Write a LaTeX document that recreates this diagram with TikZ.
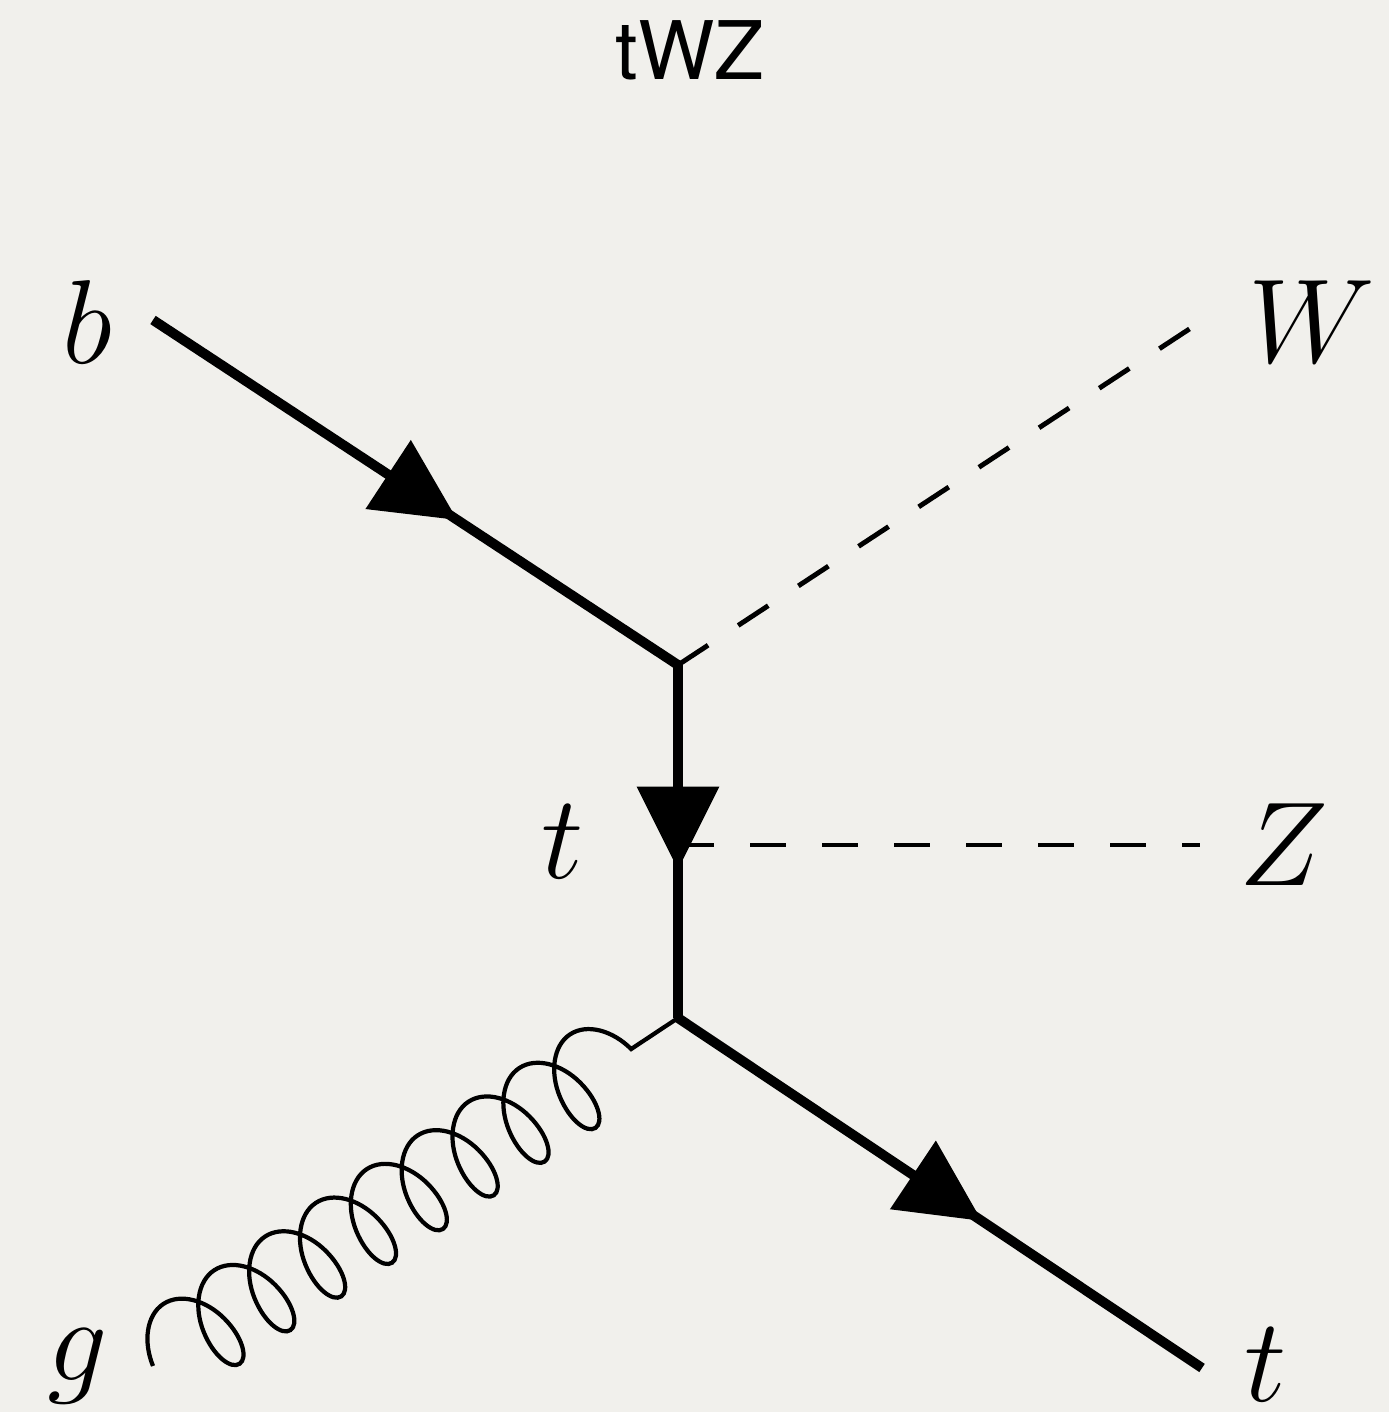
\RequirePackage{fix-cm}
\documentclass[tikz,border=0pt]{standalone}
\usepackage{fontspec}
\newfontfamily\titlefont{TeX Gyre Heros}
\usetikzlibrary{arrows.meta,decorations.markings,decorations.pathmorphing}

\begin{document}
\begin{tikzpicture}[
  fermion/.style={line width=2.8pt, postaction={decorate},
    decoration={markings, mark=at position 0.58 with {\arrow{Triangle[length=8.3mm,width=8mm]}}}},
  scalar/.style={line width=1.4pt, dash pattern=on 3.6mm off 3.6mm},
  gluon/.style={line width=1.2pt, decorate,
    decoration={coil, amplitude=4.6mm, segment length=6.1mm, aspect=0.6}},
  lbl/.style={font=\fontsize{34}{40}\selectfont, inner sep=0pt}
]

% Colori
\definecolor{bgGray}{HTML}{F1F0EC}

% Sfondo
\fill[bgGray] (0,0) rectangle (13.89,14.12);
\useasboundingbox (0,0) rectangle (13.89,14.12);

% Titolo
\node[font=\titlefont\fontsize{23}{28}\selectfont, anchor=base] (title) at (6.90,13.32) {tWZ};

% Vertici ed estremi
\coordinate (b) at (1.53,10.92);
\coordinate (v1) at (6.78,7.47);
\coordinate (vz) at (6.78,5.67);
\coordinate (v2) at (6.78,3.94);
\coordinate (w) at (11.97,10.88);
\coordinate (z) at (12.00,5.67);
\coordinate (g) at (1.53,0.46);
\coordinate (tout) at (12.02,0.44);

% Bosoni
\draw[scalar] (v1) -- (w);
\draw[scalar] (vz) -- (z);

% Gluone
\draw[gluon] (g) -- (v2);

% Fermioni
\draw[fermion] (b) -- (v1);
\draw[fermion] (v1) -- (v2);
\draw[fermion] (v2) -- (tout);

% Etichette
\node[lbl] (lb) at (0.87,10.90) {$b$};
\node[lbl] (lw) at (13.12,10.90) {$W$};
\node[lbl] (lt) at (5.63,5.70) {$t$};
\node[lbl] (lz) at (12.84,5.67) {$Z$};
\node[lbl] (lg) at (0.78,0.46) {$g$};
\node[lbl] (ltout) at (12.66,0.47) {$t$};

\end{tikzpicture}
\end{document}
